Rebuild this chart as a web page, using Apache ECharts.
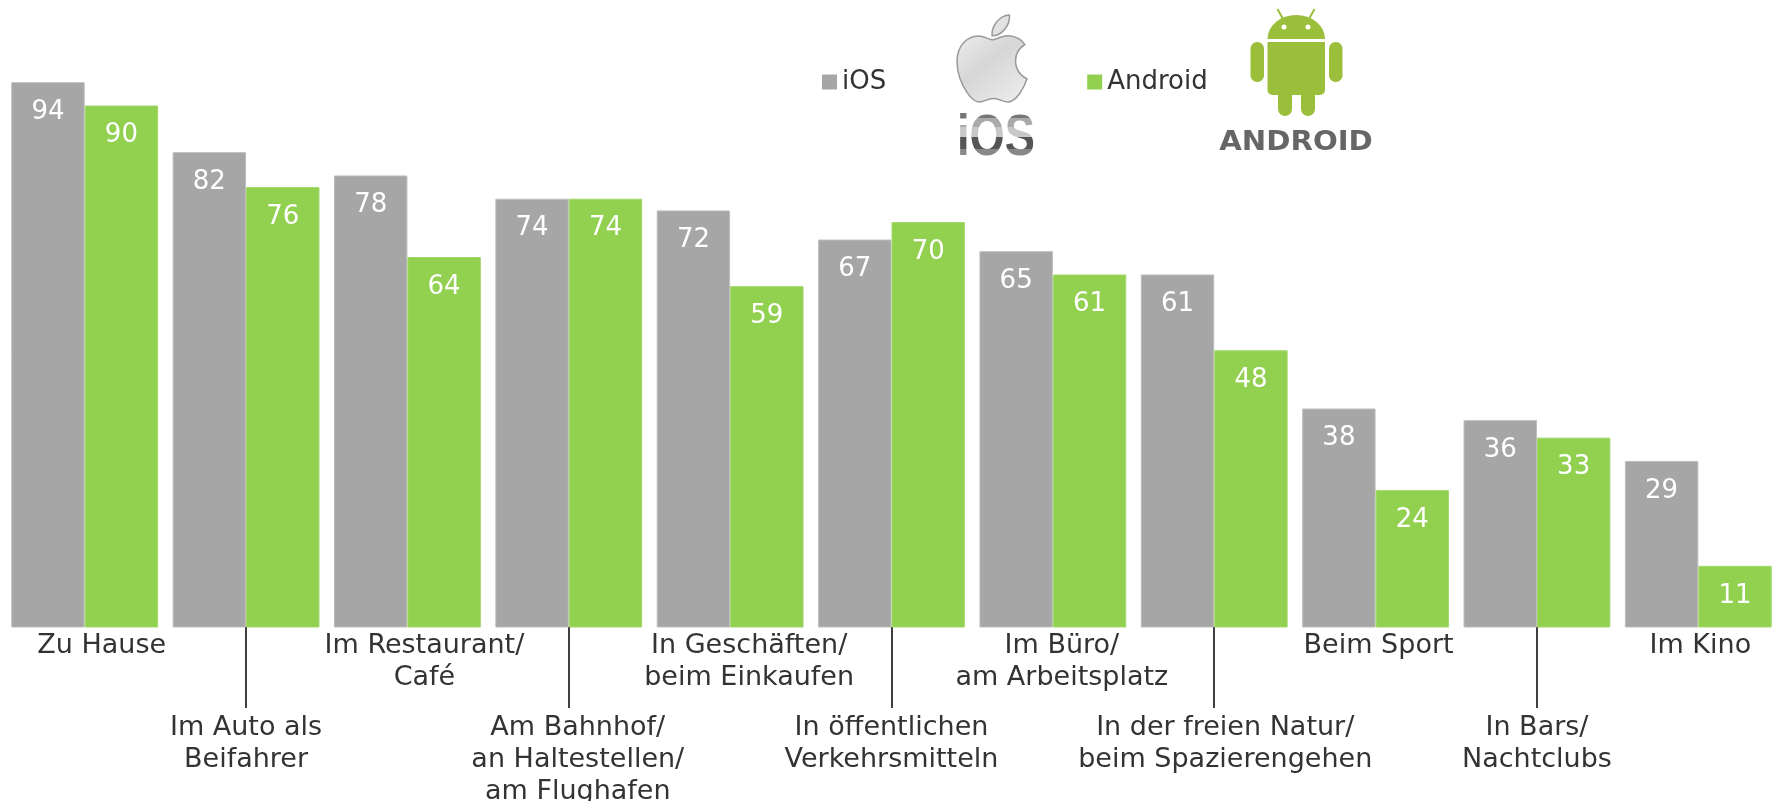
<!DOCTYPE html>
<html>
<head>
<meta charset="utf-8">
<style>
  html, body { margin: 0; background: #fff; }
  #main { width: 1775px; height: 801px; }
</style>
<script src="https://cdn.jsdelivr.net/npm/echarts@6/dist/echarts.min.js"></script>
</head>
<body>
<div id="main"></div>
<script>
const categories = [
  'Zu Hause',
  'Im Auto als\nBeifahrer',
  'Im Restaurant/\nCafé',
  'Am Bahnhof/\nan Haltestellen/\nam Flughafen',
  'In Geschäften/\nbeim Einkaufen',
  'In öffentlichen\nVerkehrsmitteln',
  'Im Büro/\nam Arbeitsplatz',
  'In der freien Natur/\nbeim Spazierengehen',
  'Beim Sport',
  'In Bars/\nNachtclubs',
  'Im Kino'
];
const iosValues = [94, 82, 78, 74, 72, 67, 65, 61, 38, 36, 29];
const androidValues = [90, 76, 64, 74, 59, 70, 61, 48, 24, 33, 11];

// Versatz der Beschriftungen nach rechts, in px
const labelShifts = [17, 0, 17, 9, 19, 0, 9, 11, 3, 0, 2];

const font = '"DejaVu Sans", Verdana, sans-serif';
const applePath = 'M318.7 268.7c-.2-36.7 16.4-64.4 50-84.8-18.8-26.9-47.2-41.7-84.7-44.6-35.5-2.8-74.3 20.7-88.5 20.7-15 0-49.4-19.7-76.4-19.7C63.3 141.2 4 184.8 4 273.5q0 39.3 14.4 81.2c12.8 36.7 59 126.7 107.2 125.2 25.2-.6 43-17.9 75.8-17.9 31.8 0 48.3 17.9 76.4 17.9 48.6-.7 90.4-82.5 102.6-119.3-65.2-30.7-61.7-90-61.7-91.9zm-56.6-164.2c27.3-32.4 24.8-61.9 24-72.5-24.1 1.4-52 16.4-67.9 34.9-17.5 19.8-27.8 44.3-25.6 71.9 26.1 2 49.9-11.4 69.5-34.3z';
const droidGreen = '#9bbf3b';

const silver = new echarts.graphic.LinearGradient(0, 0, 1, 1, [
  { offset: 0, color: '#f7f7f7' },
  { offset: 0.5, color: '#d6d6d6' },
  { offset: 1, color: '#efefef' }
]);

// lange Beschriftungen stehen versetzt tiefer, daher die Abstandszeile
const labelFormatter = (value, index) => {
  const lines = value.split('\n').map(l => '{t' + index + '|' + l + '}').join('\n');
  return index % 2 === 1 ? '{gap|}\n' + lines : lines;
};

const labelRich = { gap: { fontSize: 1, lineHeight: 82, height: 82 } };
labelShifts.forEach((shift, i) => {
  labelRich['t' + i] = {
    fontFamily: font, fontSize: 27, lineHeight: 32, color: '#333333',
    padding: [0, 0, 0, shift * 2]
  };
});

const droidRect = (x, y, w, h, r) => ({
  type: 'rect',
  shape: { x, y, width: w, height: h, r },
  style: { fill: droidGreen }
});

// Text kann keinen Verlauf, also Streifen in verschiedenen Grautoenen
const iosBand = (y, height, fill) => ({
  type: 'text',
  x: 996,
  y: 139,
  scaleX: 0.78,
  clipPath: { type: 'rect', shape: { x: -60, y, width: 120, height } },
  style: {
    x: 0, y: 0, text: 'iOS', align: 'center', verticalAlign: 'middle',
    font: 'bold 58px "Liberation Sans", Arial, sans-serif', fill
  }
});

const logos = [
  // Apple
  {
    type: 'path',
    shape: { pathData: applePath, x: 957, y: 15, width: 70, height: 87, layout: 'cover' },
    style: { fill: silver, stroke: '#9a9a9a', lineWidth: 1.5 }
  },
  iosBand(-30, 9, '#777777'),
  iosBand(-21, 9, '#aaaaaa'),
  iosBand(-12, 10, '#c8c8c8'),
  iosBand(-2, 12, '#555555'),
  iosBand(10, 8, '#888888'),
  iosBand(18, 12, '#b8b8b8'),
  // Android
  {
    type: 'path',
    shape: { pathData: 'M0 24 A29 24 0 0 1 58 24 Z', x: 1267.5, y: 15, width: 57.5, height: 24, layout: 'cover' },
    style: { fill: droidGreen }
  },
  {
    type: 'line',
    shape: { x1: 1283, y1: 19, x2: 1277.5, y2: 9 },
    style: { stroke: droidGreen, lineWidth: 2 }
  },
  {
    type: 'line',
    shape: { x1: 1309, y1: 19, x2: 1314.5, y2: 9 },
    style: { stroke: droidGreen, lineWidth: 2 }
  },
  { type: 'circle', shape: { cx: 1284, cy: 27, r: 2.5 }, style: { fill: '#fff' } },
  { type: 'circle', shape: { cx: 1308, cy: 27, r: 2.5 }, style: { fill: '#fff' } },
  droidRect(1267.5, 42, 57.5, 53, [0, 0, 5, 5]),
  droidRect(1250.5, 42, 13.5, 40, 6.5),
  droidRect(1329, 42, 13.5, 40, 6.5),
  droidRect(1278, 85, 14, 31, 7),
  droidRect(1301, 85, 14, 31, 7),
  {
    type: 'text',
    x: 1296,
    y: 143,
    scaleX: 1.08,
    style: {
      x: 0, y: 0, text: 'ANDROID', align: 'center', verticalAlign: 'middle',
      font: 'bold 27px "DejaVu Sans", sans-serif', fill: '#666666'
    }
  }
];

const myChart = echarts.init(document.getElementById('main'));

const options = {
  animation: false,
  textStyle: { fontFamily: font },
  grid: { left: 4, top: 49, width: 1775, height: 578, outerBoundsMode: 'none' },
  legend: {
    data: ['iOS', 'Android'],
    left: 817,
    top: 64,
    icon: 'rect',
    itemWidth: 15,
    itemHeight: 15,
    itemGap: 201,
    itemStyle: { borderWidth: 0 },
    textStyle: { fontFamily: font, fontSize: 26, color: '#333333' }
  },
  xAxis: {
    type: 'category',
    data: categories,
    axisLine: { show: false },
    axisTick: {
      show: true,
      alignWithLabel: true,
      interval: (index) => index % 2 === 1,
      length: 81,
      lineStyle: { color: '#000000', width: 1.5 }
    },
    axisLabel: {
      interval: 0,
      margin: 3,
      hideOverlap: false,
      formatter: labelFormatter,
      rich: labelRich
    }
  },
  yAxis: {
    type: 'value',
    min: 0.5,
    max: 99.7,
    show: false,
    splitLine: { show: false }
  },
  series: [
    {
      name: 'iOS',
      type: 'bar',
      data: iosValues,
      barGap: '0%',
      barCategoryGap: '9%',
      itemStyle: { color: '#a6a6a6', borderColor: '#bdbdbd', borderWidth: 1 },
      label: {
        show: true, position: 'insideTop', distance: 17,
        fontFamily: font, fontSize: 26, color: '#ffffff'
      }
    },
    {
      name: 'Android',
      type: 'bar',
      data: androidValues,
      itemStyle: { color: '#92d050', borderColor: '#a2d86b', borderWidth: 1 },
      label: {
        show: true, position: 'insideTop', distance: 17,
        fontFamily: font, fontSize: 26, color: '#ffffff'
      }
    },
    {
      // Logos als Zeichnung, graphic-Komponente kennt kein path
      name: 'logos',
      type: 'custom',
      silent: true,
      data: [0],
      renderItem: () => ({ type: 'group', children: logos })
    }
  ]
};

myChart.setOption(options);
</script>
</body>
</html>
